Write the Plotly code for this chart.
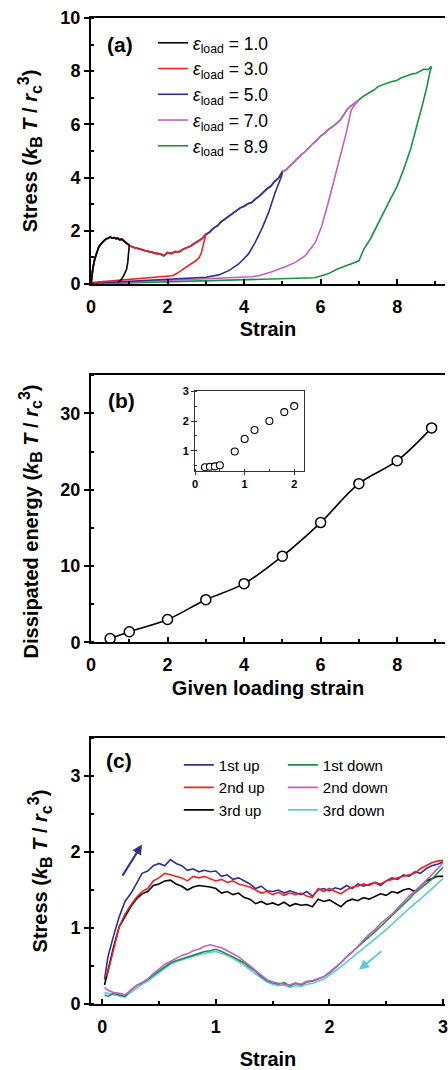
import numpy as np
import plotly.graph_objects as go

# ---------------- Panel (a) data ----------------
LOAD_X = [0.0, 0.05, 0.1, 0.15, 0.2, 0.25, 0.3, 0.35, 0.4, 0.45, 0.5, 0.55, 0.6, 0.65, 0.7, 0.75, 0.8, 0.85, 0.9, 0.95, 1.0,
          1.1, 1.2, 1.3, 1.4, 1.5, 1.6, 1.7, 1.8, 1.9, 2.0, 2.1, 2.2, 2.3, 2.4, 2.5, 2.6, 2.7, 2.8, 2.9, 3.0,
          3.1, 3.2, 3.3, 3.4, 3.5, 3.6, 3.7, 3.8, 3.9, 4.0, 4.1, 4.2, 4.3, 4.4, 4.5, 4.6, 4.7, 4.8, 4.9, 5.0,
          5.1, 5.2, 5.3, 5.4, 5.5, 5.6, 5.7, 5.8, 5.9, 6.0, 6.1, 6.2, 6.3, 6.4, 6.5, 6.6, 6.7, 6.8, 6.9, 7.0,
          7.1, 7.2, 7.3, 7.4, 7.5, 7.6, 7.7, 7.8, 7.9, 8.0, 8.1, 8.2, 8.3, 8.4, 8.5, 8.6, 8.7, 8.8, 8.9]
LOAD_Y = [0.0, 0.6, 0.95, 1.18, 1.38, 1.48, 1.58, 1.64, 1.70, 1.72, 1.77, 1.72, 1.74, 1.70, 1.72, 1.66, 1.68, 1.62, 1.55, 1.52, 1.45,
          1.38, 1.33, 1.30, 1.26, 1.22, 1.20, 1.15, 1.13, 1.06, 1.18, 1.14, 1.22, 1.20, 1.30, 1.36, 1.42, 1.52, 1.62, 1.70, 1.86,
          1.95, 2.10, 2.18, 2.33, 2.44, 2.52, 2.66, 2.74, 2.86, 2.92, 3.02, 3.06, 3.20, 3.30, 3.44, 3.58, 3.68, 3.86, 3.98, 4.22,
          4.30, 4.45, 4.58, 4.75, 4.86, 4.98, 5.15, 5.28, 5.40, 5.56, 5.66, 5.80, 5.90, 6.02, 6.14, 6.35, 6.58, 6.70, 6.80, 6.92,
          7.04, 7.12, 7.22, 7.30, 7.42, 7.48, 7.55, 7.58, 7.62, 7.66, 7.74, 7.80, 7.84, 7.90, 7.92, 8.00, 8.08, 8.06, 8.18]

EPS_LOAD = [1.0, 3.0, 5.0, 7.0, 8.9]
LABELS_A = ["1.0", "3.0", "5.0", "7.0", "8.9"]
COLORS_A = ["#000000", "#ee2222", "#2e3192", "#c55ec5", "#17923f"]

UNLOAD_X = [
    [0.99, 0.98, 0.96, 0.93, 0.88, 0.84, 0.78, 0.71],
    [2.97, 2.93, 2.88, 2.83, 2.75, 2.61, 2.5, 2.35, 2.25, 2.13, 0.0],
    [4.98, 4.81, 4.64, 4.46, 4.29, 4.11, 3.86, 3.6, 3.34, 3.0, 0.0],
    [6.93, 6.8, 6.67, 6.54, 6.37, 6.2, 6.03, 5.86, 5.6, 5.34, 5.08, 4.73, 4.39, 4.2, 0.0],
    [8.86, 8.78, 8.65, 8.52, 8.35, 8.17, 8.0, 7.82, 7.65, 7.48, 7.3, 7.13, 7.0, 6.79, 6.44, 6.18, 5.84, 0.0],
]
UNLOAD_Y = [
    [1.30, 1.05, 0.80, 0.55, 0.38, 0.28, 0.15, 0.07],
    [1.65, 1.44, 1.15, 1.0, 0.88, 0.75, 0.63, 0.5, 0.4, 0.31, 0.05],
    [4.06, 3.43, 2.68, 2.06, 1.56, 1.12, 0.75, 0.5, 0.34, 0.25, 0.02],
    [6.8, 6.55, 5.68, 4.93, 3.93, 3.06, 2.18, 1.56, 1.06, 0.81, 0.65, 0.46, 0.31, 0.27, 0.01],
    [7.99, 7.43, 6.68, 5.93, 5.06, 4.31, 3.68, 3.18, 2.68, 2.18, 1.69, 1.31, 0.87, 0.75, 0.56, 0.37, 0.23, 0.0],
]

# ---------------- Panel (b) data ----------------
GIVEN_STRAIN = [0.5, 1, 2, 3, 4, 5, 6, 7, 8, 8.9]
DISSIPATED = [0.5, 1.4, 3.0, 5.6, 7.7, 11.3, 15.7, 20.8, 23.8, 28.1]
INSET_X = [0.2, 0.3, 0.4, 0.5, 0.8, 1.0, 1.2, 1.5, 1.8, 2.0]
INSET_Y = [0.45, 0.47, 0.48, 0.52, 0.98, 1.4, 1.7, 2.0, 2.3, 2.5]

# ---------------- Panel (c) data ----------------
C_X = [0.02, 0.05, 0.10, 0.15, 0.20, 0.25, 0.30, 0.35, 0.40, 0.45, 0.50, 0.55, 0.60, 0.65, 0.70, 0.75, 0.80, 0.85, 0.90, 0.95,
       1.00, 1.05, 1.10, 1.15, 1.20, 1.25, 1.30, 1.35, 1.40, 1.45, 1.50, 1.55, 1.60, 1.65, 1.70, 1.75, 1.80, 1.85, 1.90, 1.95,
       2.00, 2.05, 2.10, 2.15, 2.20, 2.25, 2.30, 2.35, 2.40, 2.45, 2.50, 2.55, 2.60, 2.65, 2.70, 2.75, 2.80, 2.85, 2.90, 2.95, 3.00]
UP1 = [0.32, 0.62, 0.90, 1.15, 1.35, 1.45, 1.58, 1.72, 1.75, 1.82, 1.85, 1.82, 1.90, 1.85, 1.82, 1.76, 1.78, 1.74, 1.76, 1.74,
       1.75, 1.68, 1.70, 1.64, 1.66, 1.62, 1.58, 1.52, 1.55, 1.49, 1.48, 1.50, 1.46, 1.49, 1.47, 1.44, 1.48, 1.42, 1.50, 1.52,
       1.49, 1.53, 1.51, 1.56, 1.52, 1.58, 1.55, 1.57, 1.60, 1.56, 1.62, 1.66, 1.64, 1.70, 1.68, 1.74, 1.72, 1.78, 1.82, 1.84, 1.87]
UP2 = [0.35, 0.42, 0.72, 1.02, 1.18, 1.30, 1.40, 1.48, 1.52, 1.62, 1.66, 1.72, 1.70, 1.68, 1.66, 1.62, 1.68, 1.66, 1.68, 1.65,
       1.62, 1.64, 1.60, 1.62, 1.58, 1.56, 1.54, 1.50, 1.46, 1.48, 1.44, 1.47, 1.43, 1.46, 1.44, 1.46, 1.42, 1.40, 1.52, 1.48,
       1.52, 1.48, 1.45, 1.50, 1.54, 1.55, 1.58, 1.56, 1.60, 1.58, 1.62, 1.64, 1.66, 1.68, 1.70, 1.72, 1.78, 1.82, 1.86, 1.88, 1.89]
UP3 = [0.25, 0.45, 0.75, 1.02, 1.15, 1.28, 1.38, 1.45, 1.48, 1.56, 1.58, 1.62, 1.63, 1.58, 1.55, 1.50, 1.54, 1.56, 1.55, 1.54,
       1.52, 1.46, 1.48, 1.44, 1.46, 1.40, 1.38, 1.32, 1.35, 1.31, 1.33, 1.30, 1.34, 1.29, 1.32, 1.30, 1.31, 1.28, 1.38, 1.35,
       1.37, 1.33, 1.28, 1.35, 1.38, 1.36, 1.40, 1.38, 1.42, 1.45, 1.43, 1.48, 1.46, 1.50, 1.52, 1.48, 1.55, 1.62, 1.65, 1.68, 1.68]
DOWN1 = [0.12, 0.10, 0.14, 0.12, 0.10, 0.18, 0.24, 0.28, 0.32, 0.38, 0.43, 0.48, 0.54, 0.57, 0.60, 0.62, 0.64, 0.67, 0.69, 0.70,
         0.72, 0.69, 0.66, 0.62, 0.58, 0.54, 0.48, 0.43, 0.36, 0.31, 0.28, 0.26, 0.28, 0.24, 0.27, 0.25, 0.29, 0.30, 0.33, 0.36,
         0.41, 0.47, 0.54, 0.62, 0.68, 0.75, 0.82, 0.88, 0.95, 1.02, 1.09, 1.16, 1.24, 1.30, 1.38, 1.46, 1.52, 1.58, 1.64, 1.72, 1.80]
DOWN2 = [0.22, 0.18, 0.15, 0.14, 0.12, 0.18, 0.24, 0.28, 0.33, 0.40, 0.46, 0.52, 0.56, 0.60, 0.64, 0.66, 0.70, 0.72, 0.76, 0.78,
         0.76, 0.74, 0.70, 0.66, 0.62, 0.56, 0.50, 0.44, 0.38, 0.32, 0.29, 0.27, 0.26, 0.25, 0.28, 0.26, 0.30, 0.31, 0.33, 0.36,
         0.42, 0.48, 0.54, 0.62, 0.68, 0.76, 0.84, 0.92, 0.98, 1.06, 1.12, 1.18, 1.26, 1.34, 1.42, 1.48, 1.55, 1.62, 1.70, 1.78, 1.86]
DOWN3 = [0.15, 0.14, 0.12, 0.10, 0.09, 0.15, 0.21, 0.26, 0.30, 0.36, 0.41, 0.47, 0.52, 0.56, 0.58, 0.61, 0.63, 0.65, 0.67, 0.68,
         0.69, 0.67, 0.64, 0.60, 0.56, 0.51, 0.45, 0.40, 0.34, 0.29, 0.26, 0.24, 0.25, 0.22, 0.24, 0.23, 0.26, 0.27, 0.30, 0.33,
         0.38, 0.43, 0.49, 0.55, 0.61, 0.67, 0.73, 0.80, 0.86, 0.92, 0.98, 1.05, 1.12, 1.18, 1.25, 1.32, 1.38, 1.45, 1.52, 1.58, 1.65]

FONT = "Liberation Sans, Arial, sans-serif"
fig = go.Figure()

# ---- (a) traces: larger strains added first so smaller ones lie on top; legendrank keeps 1.0 first
load_x = np.array(LOAD_X)
load_y = np.array(LOAD_Y)
for i in reversed(range(len(EPS_LOAD))):
    m = load_x <= EPS_LOAD[i] + 1e-9
    xs = list(load_x[m]) + UNLOAD_X[i]
    ys = list(load_y[m]) + UNLOAD_Y[i]
    fig.add_trace(go.Scatter(
        x=xs, y=ys, mode="lines", line=dict(color=COLORS_A[i], width=1.6),
        name="<i>ε</i><sub>load</sub> = " + LABELS_A[i], legend="legend",
        legendgroup="a" + str(i), legendrank=i + 1, xaxis="x", yaxis="y"))

# ---- (b)
fig.add_trace(go.Scatter(
    x=GIVEN_STRAIN, y=DISSIPATED, mode="lines+markers", line=dict(color="black", width=1.6, shape="spline"),
    marker=dict(symbol="circle", size=10, color="white", line=dict(color="black", width=1.5)),
    showlegend=False, xaxis="x2", yaxis="y2"))
fig.add_trace(go.Scatter(
    x=INSET_X, y=INSET_Y, mode="markers",
    marker=dict(symbol="circle", size=7, color="white", line=dict(color="black", width=1.1)),
    showlegend=False, xaxis="x4", yaxis="y4"))

# ---- (c)
c_series = [
    ("3rd up", UP3, "#000000", "legend2", 3),
    ("1st up", UP1, "#2e3192", "legend2", 1),
    ("2nd up", UP2, "#ee2222", "legend2", 2),
    ("3rd down", DOWN3, "#5fc8df", "legend3", 3),
    ("1st down", DOWN1, "#17923f", "legend3", 1),
    ("2nd down", DOWN2, "#c55ec5", "legend3", 2),
]
for name, ys, col, leg, rank in c_series:
    fig.add_trace(go.Scatter(
        x=C_X, y=ys, mode="lines", line=dict(color=col, width=1.6), name=name,
        legend=leg, legendgroup=name, legendrank=rank, xaxis="x3", yaxis="y3"))

tickfont = dict(family=FONT, size=18, color="black", weight="bold")
titlefont = dict(family=FONT, size=20, color="black", weight="bold")
UNIT = ("(<i>k</i><sub><span style='font-size:16px'>B</span></sub> <i>T</i> / "
        "<i>r</i><sub><span style='font-size:16px'>c</span></sub><sup><span style='font-size:16px'>3</span></sup>)")

def xax(rng, dtick, anchor, title, standoff):
    return dict(domain=[0, 1], anchor=anchor, range=rng, dtick=dtick, tick0=0,
                showline=True, linecolor="black", linewidth=2, mirror=True,
                ticks="inside", ticklen=5, tickwidth=1.5, tickcolor="black",
                minor=dict(ticks="inside", ticklen=3, tickwidth=1.5, dtick=dtick / 2, tickcolor="black"),
                showgrid=False, zeroline=False, tickfont=tickfont, ticklabelstandoff=5,
                ticklabeloverflow="allow",
                title=dict(text=title, font=titlefont, standoff=standoff))

def yax(rng, dtick, anchor, domain, title):
    return dict(domain=list(domain), anchor=anchor, range=rng, dtick=dtick, tick0=0,
                showline=True, linecolor="black", linewidth=2,
                ticks="outside", ticklen=5, tickwidth=1.5, tickcolor="black",
                minor=dict(ticks="inside", ticklen=3, tickwidth=1.5, dtick=dtick / 2, tickcolor="black"),
                showgrid=False, zeroline=False, tickfont=tickfont,
                title=dict(text=title, font=titlefont, standoff=17))

fig.update_layout(
    width=448, height=1070, margin=dict(l=91, r=0, t=18, b=62),
    paper_bgcolor="white", plot_bgcolor="white", showlegend=True,
    font=dict(family=FONT, color="black"),
    xaxis=xax([0, 9.25], 2, "y", "Strain", 6),
    yaxis=yax([0, 10], 2, "x", [0.7303, 1.0], "Stress " + UNIT),
    xaxis2=xax([0, 9.25], 2, "y2", "Given loading strain", 7),
    yaxis2=yax([0, 35], 10, "x2", [0.3667, 0.6377], None),
    xaxis3=xax([-0.099, 3.017], 1, "y3", "Strain", 19),
    yaxis3=yax([0, 3.5], 1, "x3", [0, 0.2697], "Stress " + UNIT),
    xaxis4=dict(domain=[0.294, 0.602], anchor="y4", range=[0, 2.2], dtick=1, tick0=0,
                showline=True, linecolor="#333", linewidth=1, mirror=True,
                ticks="outside", ticklen=3, tickcolor="#333",
                minor=dict(ticks="inside", ticklen=2, dtick=0.5, tickcolor="#333"),
                showgrid=False, zeroline=False,
                tickfont=dict(family=FONT, size=11, color="black", weight="bold")),
    yaxis4=dict(domain=[0.5404, 0.6215], anchor="x4", range=[0.32, 3.0], dtick=1, tick0=0,
                showline=True, linecolor="#333", linewidth=1, mirror=True,
                ticks="outside", ticklen=3, tickcolor="#333",
                minor=dict(ticks="inside", ticklen=2, dtick=0.5, tickcolor="#333"),
                showgrid=False, zeroline=False,
                tickfont=dict(family=FONT, size=11, color="black", weight="bold")),
    legend=dict(x=0.175, y=0.993, xanchor="left", yanchor="top", bgcolor="rgba(0,0,0,0)",
                font=dict(family=FONT, size=17.5, color="black"),
                itemwidth=30, traceorder="normal"),
    legend2=dict(x=0.248, y=0.259, xanchor="left", yanchor="top", bgcolor="rgba(0,0,0,0)",
                 font=dict(family=FONT, size=15, color="black"), tracegroupgap=0,
                 itemwidth=30, traceorder="normal"),
    legend3=dict(x=0.542, y=0.259, xanchor="left", yanchor="top", bgcolor="rgba(0,0,0,0)",
                 font=dict(family=FONT, size=15, color="black"), tracegroupgap=0,
                 itemwidth=30, traceorder="normal"),
)

# y title of (b) placed as in the reference (slightly below the axis centre)
fig.add_annotation(x=-0.171, y=0.4899, xref="paper", yref="paper", textangle=-90,
                   text="Dissipated energy " + UNIT, showarrow=False, font=titlefont,
                   xanchor="center", yanchor="middle")

lab = dict(family=FONT, size=21, color="black", weight="bold")
fig.add_annotation(x=0.75, y=9.0, xref="x", yref="y", text="(a)", showarrow=False, font=lab)
fig.add_annotation(x=0.8, y=31.7, xref="x2", yref="y2", text="(b)", showarrow=False, font=lab)
fig.add_annotation(x=0.146, y=3.21, xref="x3", yref="y3", text="(c)", showarrow=False, font=lab)

# direction arrows in (c)
fig.add_annotation(x=0.35, y=2.1, ax=0.17, ay=1.67, xref="x3", yref="y3", axref="x3", ayref="y3",
                   text="", showarrow=True, arrowhead=2, arrowsize=1, arrowwidth=2, arrowcolor="#2e3192")
fig.add_annotation(x=2.26, y=0.45, ax=2.47, ay=0.71, xref="x3", yref="y3", axref="x3", ayref="y3",
                   text="", showarrow=True, arrowhead=2, arrowsize=1, arrowwidth=2, arrowcolor="#5fc8df")

fig.write_html("out.html")
